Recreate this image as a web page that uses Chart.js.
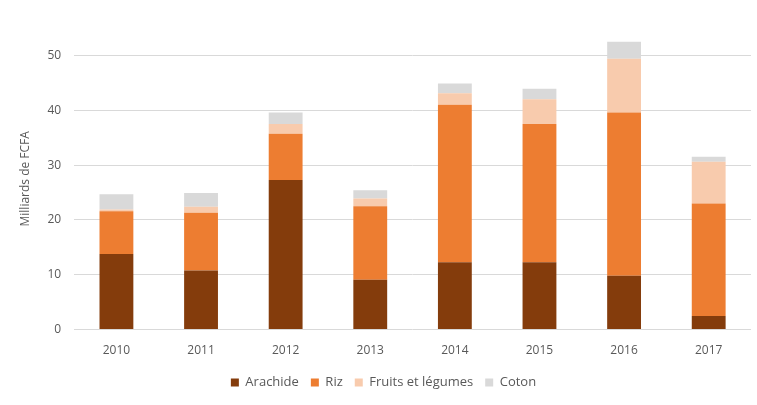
<!DOCTYPE html>
<html>
<head>
<meta charset="utf-8">
<script src="https://cdn.jsdelivr.net/npm/chart.js@4/dist/chart.umd.min.js"></script>
<style>
  html, body { margin: 0; padding: 0; background: #fff; }
  #wrap { width: 757px; height: 405px; position: relative; }
</style>
</head>
<body>
<div id="wrap"><canvas id="chart"></canvas></div>
<script>
// years on the x axis
const years = ['2010', '2011', '2012', '2013', '2014', '2015', '2016', '2017'];

// values in milliards de FCFA
const arachide = [13.8, 10.8, 27.3, 9.1, 12.3, 12.3, 9.8, 2.5];
const riz = [7.8, 10.5, 8.4, 13.4, 28.7, 25.2, 29.8, 20.5];
const fruits = [0.3, 1.1, 1.8, 1.4, 2.1, 4.5, 9.8, 7.6];
const coton = [2.8, 2.5, 2.1, 1.5, 1.8, 1.9, 3.1, 0.9];

const yTicks = [0, 10, 20, 30, 40, 50];

const textColor = '#595959';
const font = { family: 'Open Sans', size: 12 };

function series(label, data, color) {
  return {
    label,
    data,
    backgroundColor: color,
    borderWidth: 0,
    barPercentage: 0.8,
    categoryPercentage: 0.5
  };
}

new Chart(document.getElementById('chart'), {
  type: 'bar',
  data: {
    labels: years,
    datasets: [
      series('Arachide', arachide, '#843c0c'),
      series('Riz', riz, '#ed7d31'),
      series('Fruits et légumes', fruits, '#f8cbad'),
      series('Coton', coton, '#d9d9d9')
    ]
  },
  options: {
    responsive: true,
    maintainAspectRatio: false,
    animation: false,
    layout: { padding: { left: 16, right: 6, top: 28, bottom: 6 } },
    plugins: {
      legend: {
        position: 'bottom',
        labels: {
          color: textColor,
          font: { family: 'Open Sans', size: 13 },
          boxWidth: 8,
          boxHeight: 8,
          padding: 12
        }
      },
      tooltip: { enabled: false }
    },
    scales: {
      x: {
        stacked: true,
        grid: { display: false },
        border: { display: false },
        ticks: { color: textColor, font, padding: 6 }
      },
      y: {
        stacked: true,
        min: 0,
        max: 55,
        afterBuildTicks: axis => {
          axis.ticks = yTicks.map(v => ({ value: v }));
        },
        grid: { color: '#d9d9d9', drawTicks: false },
        border: { display: false },
        ticks: { color: textColor, font, padding: 13 },
        title: {
          display: true,
          text: 'Milliards de FCFA',
          color: textColor,
          font,
          padding: 2
        }
      }
    }
  }
});
</script>
</body>
</html>
